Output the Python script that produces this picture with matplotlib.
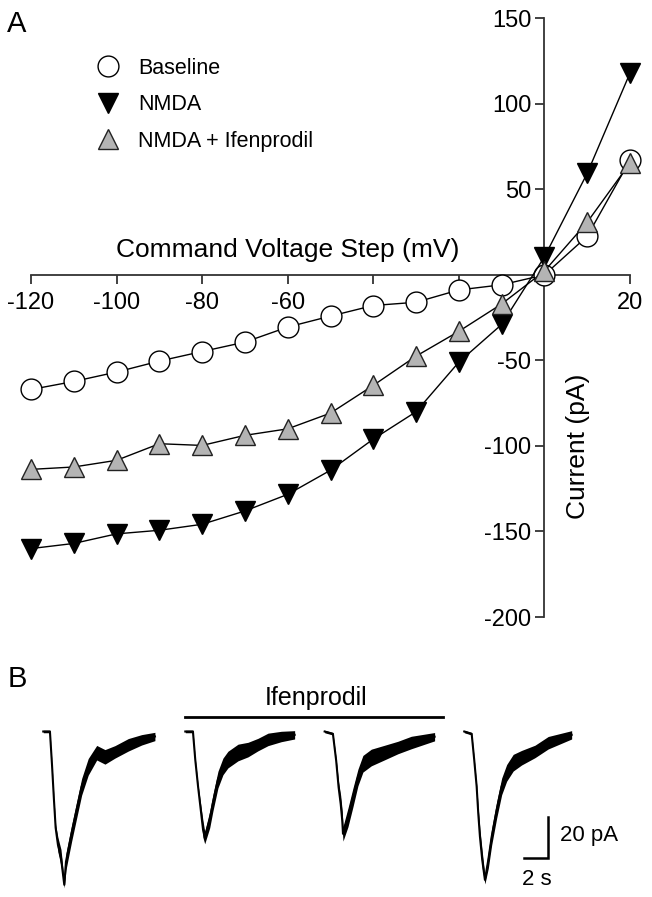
import numpy as np
import matplotlib.pyplot as plt
from matplotlib.lines import Line2D

plt.rcParams['font.family'] = ['Liberation Sans', 'DejaVu Sans']

# ---- panel A: I-V curves ----
voltage = [-120, -110, -100, -90, -80, -70, -60, -50, -40, -30, -20, -10, 0, 10, 20]
baseline = [-67, -62.3, -56.8, -50.4, -44.8, -39.3, -30.5, -24.1, -17.9, -16, -8.8, -5.8, 0, 22.6, 67]
nmda = [-160, -157, -151.4, -149.3, -145.8, -138, -128.3, -114.2, -96, -80, -51, -29, 10.5, 59.4, 118]
nmda_ifen = [-113.7, -112.3, -108.4, -98.7, -99.7, -93.8, -90, -80.8, -64.6, -47.5, -33, -17, 2.2, 30.8, 65.4]

xticks = [-120, -100, -80, -60, -40, -20, 0, 20]
xticklabels = ['-120', '-100', '-80', '-60', '', '', '', '20']
yticks = [-200, -150, -100, -50, 0, 50, 100, 150]
yticklabels = ['-200', '-150', '-100', '-50', '', '50', '100', '150']

# ---- panel B: current traces (time s, current pA, noise half-width pA) ----
t1 = [0, 0.55, 0.72, 0.88, 1.02, 1.21, 1.46, 1.73, 1.87, 2.06, 2.34, 2.75, 3.16, 3.70, 4.40, 5.08, 5.90, 7.00, 8.10, 9.19]
i1 = [0, 0, -16.0, -32.8, -46.3, -54.5, -60.7, -73.7, -62.6, -56.9, -48.7, -37.6, -26.6, -17.0, -10.2, -12.2, -9.8, -6.4, -4.0, -2.4]
w1 = [0.6, 0.6, 0.6, 0.8, 1.5, 3.5, 4, 1.5, 4, 4, 4, 4, 4, 4, 3.5, 3.5, 3, 3, 2.5, 2]

t2 = [0, 0.63, 0.82, 1.05, 1.27, 1.46, 1.60, 2.01, 2.28, 2.69, 3.10, 3.51, 4.34, 5.16, 5.98, 6.81, 7.90, 9.00]
i2 = [0, 0, -13.5, -26.4, -37.5, -47.1, -51.0, -42.3, -34.1, -23.1, -16.8, -13.5, -10.1, -8.7, -6.3, -3.8, -2.4, -1.6]
w2 = [0.6, 0.6, 0.6, 1, 2.5, 4, 3, 4, 4, 4, 4, 4, 4, 3.5, 3, 3, 2.5, 2]

t3 = [0, 0.68, 0.95, 1.15, 1.32, 1.45, 1.51, 1.92, 2.33, 2.74, 3.15, 3.84, 4.94, 6.03, 7.13, 9.05]
i3 = [0, -1.1, -14.1, -26.9, -34.8, -42.9, -49.2, -41.3, -31.7, -22.1, -15.5, -12.5, -10.1, -7.7, -5.3, -2.5]
w3 = [0.6, 0.6, 1, 2.5, 4, 4.5, 3.5, 4.5, 4.5, 4, 4, 4, 3.5, 3, 3, 2]

t4 = [0, 0.61, 0.82, 1.02, 1.15, 1.29, 1.48, 1.70, 1.98, 2.26, 2.67, 3.08, 3.49, 4.03, 4.72, 5.82, 6.91, 8.84]
i4 = [0, -1.1, -13.6, -26.4, -39.1, -50.5, -61.7, -71.3, -61.7, -50.5, -37.6, -26.4, -19.9, -15.0, -12.6, -9.6, -5.4, -1.6]
w4 = [0.6, 0.6, 0.6, 1, 2.5, 3.5, 4, 2, 4, 4, 4, 4, 4, 4, 3.5, 3, 3, 2]

onsets = [3.56, 15.25, 26.72, 38.21]
ifen_bar = (15.2, 36.5)

W, H = 652, 897
def fx(x):
    return x / W
def fy(y):
    return 1 - y / H

fig = plt.figure(figsize=(W / 100, H / 100), dpi=100)

axA = fig.add_axes([fx(31), fy(617), 599 / W, 598.7 / H])
axA.set_xlim(-120, 20)
axA.set_ylim(-200, 150)
axc = '#333333'
for s in ['top', 'right']:
    axA.spines[s].set_visible(False)
axA.spines['left'].set_position(('data', 0))
axA.spines['bottom'].set_position(('data', 0))
for s in ['left', 'bottom']:
    axA.spines[s].set_color(axc)
    axA.spines[s].set_linewidth(1.3)
axA.set_xticks(xticks)
axA.set_xticklabels(xticklabels)
axA.set_yticks(yticks)
axA.set_yticklabels(yticklabels)
axA.tick_params(axis='x', direction='out', length=6.5, width=1.3, color=axc, pad=6, labelsize=17)
axA.tick_params(axis='y', direction='out', length=6.5, width=1.3, color=axc, pad=3, labelsize=17)

axA.plot(voltage, baseline, '-o', color='k', lw=1, ms=15, mfc='white', mec='k', mew=1, clip_on=False, zorder=3)
axA.plot(voltage, nmda, '-v', color='k', lw=1, ms=15, mfc='k', mec='k', mew=1, clip_on=False, zorder=4)
axA.plot(voltage, nmda_ifen, '-^', color='k', lw=1, ms=15, mfc='#b4b4b4', mec='#222222', mew=1, clip_on=False, zorder=5)

handles = [
    Line2D([], [], ls='none', marker='o', ms=15, mfc='white', mec='k', mew=1),
    Line2D([], [], ls='none', marker='v', ms=15, mfc='k', mec='k', mew=1),
    Line2D([], [], ls='none', marker='^', ms=15, mfc='#b4b4b4', mec='#222222', mew=1),
]
axA.legend(handles, ['Baseline', 'NMDA', 'NMDA + Ifenprodil'], loc='upper left',
           bbox_to_anchor=(fx(97), fy(58)), bbox_transform=fig.transFigure,
           frameon=False, fontsize=15.5, handlelength=1, handletextpad=0.9,
           borderpad=0, borderaxespad=0, labelspacing=0.72)

fig.text(fx(288), fy(257), 'Command Voltage Step (mV)', ha='center', va='baseline', fontsize=19)
fig.text(fx(578), fy(446), 'Current (pA)', ha='center', va='center', rotation=90, fontsize=19)
fig.text(fx(7), fy(32), 'A', fontsize=21, va='baseline')
fig.text(fx(8), fy(687), 'B', fontsize=21, va='baseline')

# ---- panel B ----
axB = fig.add_axes([0, 0, 1, 217 / H])
axB.set_xlim(0, W / 12.15)
axB.set_ylim(-(H - 731.5) / 2.08, (731.5 - 680) / 2.08)
axB.axis('off')

for t0, t, i, w in zip(onsets, [t1, t2, t3, t4], [i1, i2, i3, i4], [w1, w2, w3, w4]):
    tt = np.array(t) + t0
    ii = np.array(i)
    ww = np.array(w)
    axB.fill_between(tt, ii - ww, ii + ww, color='k', lw=0)
    axB.plot(tt, ii, color='k', lw=1.5)

axB.plot(ifen_bar, [7.1, 7.1], color='k', lw=2)
axB.text(sum(ifen_bar) / 2 + 0.15, 12.7, 'Ifenprodil', ha='center', va='baseline', fontsize=18)

# scale bar: 2 s, 20 pA
sx, sy = 45.13, -61
axB.plot([sx - 2, sx, sx], [sy, sy, sy + 20], color='k', lw=1.8, solid_joinstyle='miter')
axB.text(sx + 1.0, sy + 10.8, '20 pA', ha='left', va='center', fontsize=16)
axB.text(sx - 0.96, -73.8, '2 s', ha='center', va='baseline', fontsize=16)

fig.savefig('out.png', dpi=100)
